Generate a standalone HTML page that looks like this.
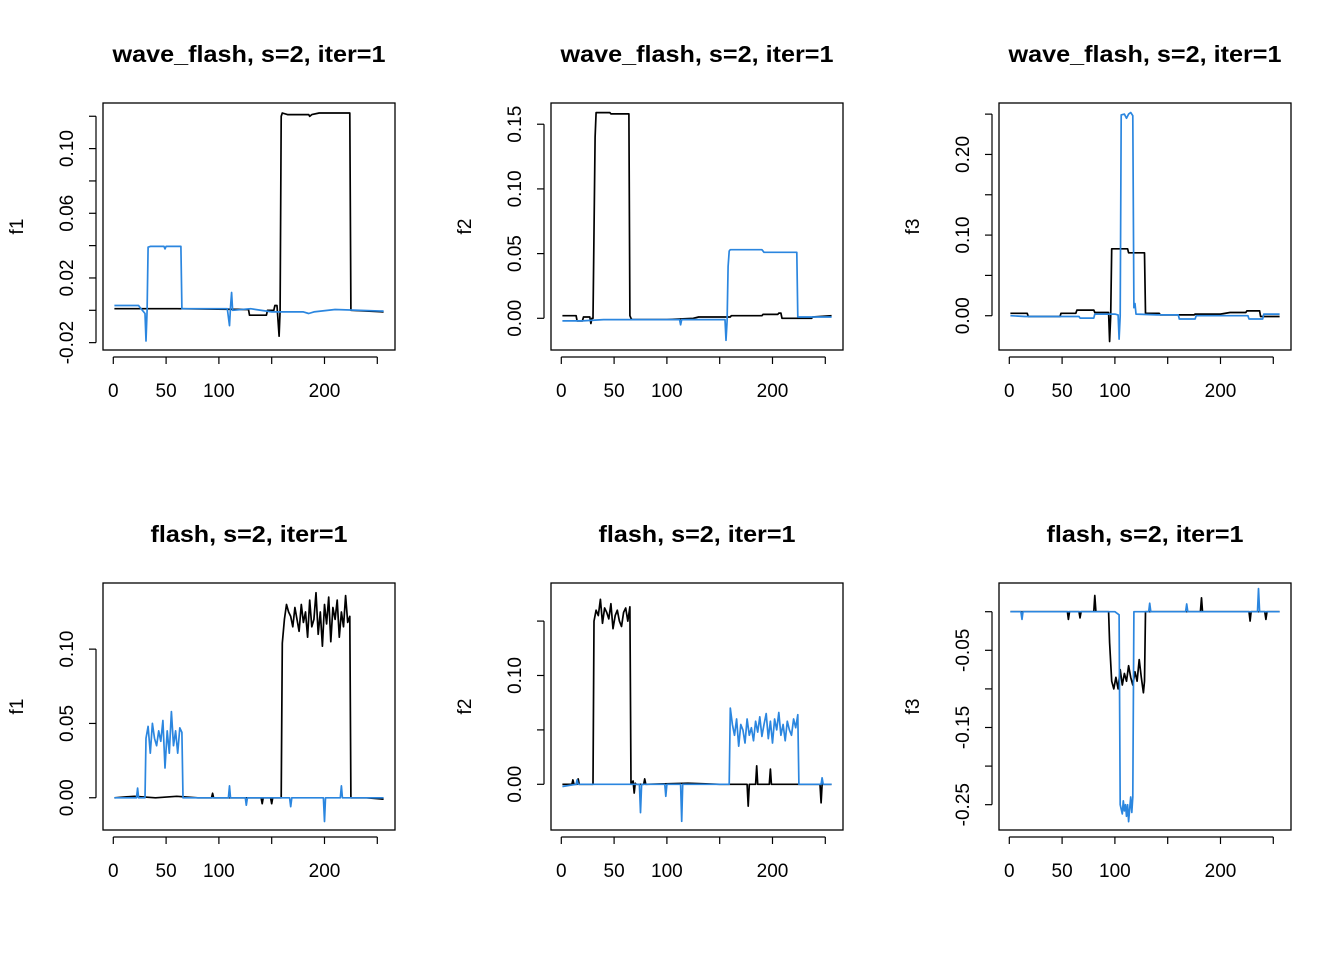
<!DOCTYPE html>
<html><head><meta charset="utf-8">
<style>
html,body{margin:0;padding:0;background:#fff;}
svg{display:block;font-family:"Liberation Sans",Arial,sans-serif;}
</style></head>
<body>
<svg id="chart" width="1344" height="960" viewBox="0 0 1344 960" xmlns="http://www.w3.org/2000/svg"></svg>
<script>
// ---- data (index, value) pairs ----
const p1Black=[[1,0.001],[60,0.001],[128,0.0005],[129,-0.003],[145,-0.003],[146,0],[152,0],[153,0.003],[155,0.003],[157,-0.016],[158,0],[159,0.12],[160,0.122],[165,0.121],[185,0.121],[186,0.120],[188,0.121],[195,0.122],[210,0.122],[224,0.122],[225,0],[256,-0.001]];
const p1Blue=[[1,0.003],[24,0.003],[25,0.002],[30,-0.002],[31,-0.019],[32,0],[33,0.039],[35,0.0395],[48,0.0395],[49,0.038],[50,0.0395],[64,0.0395],[65,0.001],[108,0.001],[110,-0.0095],[111,0.002],[112,0.011],[113,0],[130,0.001],[150,-0.001],[180,-0.001],[185,-0.002],[190,-0.001],[210,0.0005],[256,-0.0005]];
const p2Black=[[1,0.002],[14,0.002],[15,-0.002],[20,-0.002],[21,0.001],[27,0.001],[28,-0.004],[29,0],[30,0],[32,0.14],[33,0.159],[46,0.159],[47,0.158],[64,0.158],[65,0.002],[66,0],[67,-0.001],[100,-0.001],[125,0],[130,0.001],[160,0.001],[161,0.002],[190,0.002],[191,0.003],[205,0.003],[206,0.004],[208,0.004],[209,0],[237,0],[238,0.001],[256,0.002]];
const p2Blue=[[1,-0.002],[20,-0.002],[40,-0.001],[80,-0.001],[112,-0.001],[113,-0.005],[114,-0.001],[155,-0.001],[156,-0.017],[157,-0.002],[158,0.04],[159,0.052],[160,0.053],[190,0.053],[192,0.051],[223,0.051],[224,0.001],[256,0.001]];
const p3Black=[[1,0.003],[17,0.003],[18,-0.001],[48,-0.001],[49,0.003],[63,0.003],[64,0.007],[80,0.007],[81,0.004],[94,0.004],[95,-0.032],[96,0],[97,0.083],[112,0.083],[113,0.078],[128,0.078],[129,0.003],[142,0.003],[143,0.001],[175,0.001],[176,0.002],[200,0.002],[209,0.004],[224,0.004],[225,0.006],[237,0.006],[238,-0.001],[256,-0.001]];
const p3Blue=[[1,0],[15,-0.001],[66,-0.001],[67,-0.003],[80,-0.003],[81,0.002],[100,0.002],[103,0.001],[104,-0.029],[105,0],[106,0.249],[109,0.25],[111,0.245],[113,0.25],[115,0.252],[117,0.248],[118,0.01],[119,0.015],[120,0.002],[140,0.001],[160,0.001],[161,-0.004],[176,-0.004],[177,0],[226,0],[227,-0.004],[240,-0.004],[241,0.002],[256,0.002]];
const p4Black=[[1,0],[20,0.001],[40,0],[60,0.001],[80,0],[93,0],[94,0.003],[95,0],[140,0],[141,-0.004],[142,0],[149,0],[150,-0.004],[151,0],[159,0],[160,0.104],[162,0.12],[164,0.13],[166,0.125],[168,0.122],[170,0.115],[172,0.128],[174,0.12],[176,0.112],[178,0.13],[180,0.118],[182,0.125],[184,0.108],[186,0.133],[188,0.115],[190,0.12],[192,0.138],[194,0.11],[196,0.125],[198,0.102],[200,0.13],[202,0.117],[204,0.135],[206,0.105],[208,0.128],[210,0.12],[212,0.133],[214,0.108],[216,0.125],[218,0.115],[220,0.136],[222,0.118],[224,0.122],[225,0],[240,0],[256,-0.001]];
const p4Blue=[[1,0],[22,0],[23,0.0065],[24,0],[30,0],[31,0.04],[33,0.048],[35,0.03],[37,0.05],[39,0.04],[41,0.035],[43,0.045],[45,0.038],[47,0.052],[49,0.02],[51,0.045],[53,0.03],[55,0.058],[57,0.035],[59,0.045],[61,0.03],[63,0.047],[65,0.044],[66,0],[100,0],[109,0],[110,0.008],[111,0],[125,0],[126,-0.005],[127,0],[167,0],[168,-0.006],[169,0],[199,0],[200,-0.016],[201,0],[215,0],[216,0.008],[217,0],[256,0]];
const p5Black=[[1,0],[10,0],[11,0.004],[12,0],[15,0],[16,0.005],[17,0],[30,0],[31,0.15],[33,0.16],[35,0.155],[37,0.17],[39,0.148],[41,0.162],[43,0.158],[45,0.152],[47,0.166],[49,0.143],[51,0.155],[53,0.16],[55,0.15],[57,0.145],[59,0.158],[61,0.162],[63,0.15],[65,0.163],[66,0],[68,0.003],[69,-0.008],[70,0.001],[71,0],[78,0],[79,0.005],[80,0],[120,0.001],[150,0],[176,0],[177,-0.02],[178,0],[184,0],[185,0.017],[186,0],[197,0],[198,0.014],[199,0],[245,0],[246,-0.017],[247,0],[256,0]];
const p5Blue=[[1,-0.002],[14,0],[15,0.004],[16,0],[74,0],[75,-0.026],[76,0],[98,0],[99,-0.011],[100,0],[113,0],[114,-0.034],[115,0],[159,0],[160,0.07],[162,0.055],[164,0.045],[166,0.06],[168,0.035],[170,0.055],[172,0.05],[174,0.038],[176,0.06],[178,0.045],[180,0.052],[182,0.04],[184,0.058],[186,0.048],[188,0.062],[190,0.044],[192,0.055],[194,0.065],[196,0.042],[198,0.058],[200,0.038],[202,0.06],[204,0.05],[206,0.066],[208,0.045],[210,0.055],[212,0.04],[214,0.058],[216,0.05],[218,0.045],[220,0.06],[222,0.052],[224,0.064],[225,0],[246,0],[247,0.006],[248,0],[256,0]];
const p6Black=[[1,0],[55,0],[56,-0.01],[57,0],[66,0],[67,-0.008],[68,0],[80,0],[81,0.021],[82,0],[94,0],[95,-0.04],[97,-0.09],[99,-0.1],[101,-0.085],[103,-0.1],[105,-0.075],[107,-0.095],[109,-0.08],[111,-0.09],[113,-0.07],[115,-0.085],[117,-0.095],[119,-0.078],[121,-0.09],[123,-0.062],[125,-0.085],[127,-0.105],[128,-0.09],[129,0],[181,0],[182,0.018],[183,0],[227,0],[228,-0.012],[229,0],[242,0],[243,-0.01],[244,0],[256,0]];
const p6Blue=[[1,0],[11,0],[12,-0.01],[13,0],[100,0],[104,-0.004],[105,-0.25],[107,-0.262],[108,-0.245],[109,-0.258],[110,-0.25],[111,-0.265],[112,-0.25],[113,-0.272],[114,-0.255],[115,-0.24],[116,-0.26],[117,-0.24],[118,0],[132,0],[133,0.011],[134,0],[167,0],[168,0.01],[169,0],[235,0],[236,0.03],[237,0],[256,0]];
// ---- axis ticks ----
const xTicks=[0,50,100,150,200,250];
const xLabels=[0,50,100,200];
const p1YTicks=[-0.02,0,0.02,0.04,0.06,0.08,0.10,0.12];
const p1YLabels=["-0.02","0.02","0.06","0.10"];
const p2YTicks=[0,0.05,0.10,0.15];
const p2YLabels=["0.00","0.05","0.10","0.15"];
const p3YTicks=[0,0.05,0.10,0.15,0.20,0.25];
const p3YLabels=["0.00","0.10","0.20"];
const p4YTicks=[0,0.05,0.10];
const p4YLabels=["0.00","0.05","0.10"];
const p5YTicks=[0,0.05,0.10,0.15];
const p5YLabels=["0.00","0.10"];
const p6YTicks=[0,-0.05,-0.10,-0.15,-0.20,-0.25];
const p6YLabels=["-0.05","-0.15","-0.25"];

const NS="http://www.w3.org/2000/svg";
const svg=document.getElementById('chart');
function mk(tag,attrs,parent){const e=document.createElementNS(NS,tag);for(const k in attrs)e.setAttribute(k,attrs[k]);(parent||svg).appendChild(e);return e;}

const panels=[
 {id:'p1',L:103,T:103,yl:[-0.02455,0.1282],title:'wave_flash, s=2, iter=1',tw:273,ylab:'f1',ticks:p1YTicks,labs:p1YLabels,black:p1Black,blue:p1Blue},
 {id:'p2',L:551,T:103,yl:[-0.0245,0.1664],title:'wave_flash, s=2, iter=1',tw:273,ylab:'f2',ticks:p2YTicks,labs:p2YLabels,black:p2Black,blue:p2Blue},
 {id:'p3',L:999,T:103,yl:[-0.0425,0.2638],title:'wave_flash, s=2, iter=1',tw:273,ylab:'f3',ticks:p3YTicks,labs:p3YLabels,black:p3Black,blue:p3Blue},
 {id:'p4',L:103,T:583,yl:[-0.0217,0.1445],title:'flash, s=2, iter=1',tw:197,ylab:'f1',ticks:p4YTicks,labs:p4YLabels,black:p4Black,blue:p4Blue},
 {id:'p5',L:551,T:583,yl:[-0.0420,0.185],title:'flash, s=2, iter=1',tw:197,ylab:'f2',ticks:p5YTicks,labs:p5YLabels,black:p5Black,blue:p5Blue},
 {id:'p6',L:999,T:583,yl:[-0.2828,0.0372],title:'flash, s=2, iter=1',tw:197,ylab:'f3',ticks:p6YTicks,labs:p6YLabels,black:p6Black,blue:p6Blue}
];
const W=292,H=247,XMIN=-9.75,XMAX=266.77;

panels.forEach(p=>{
  const g=mk('g',{});
  
  
  const sx=v=>p.L+(v-XMIN)/(XMAX-XMIN)*W;
  const sy=v=>p.T+H-(v-p.yl[0])/(p.yl[1]-p.yl[0])*H;
  const t=mk('text',{x:p.L+W/2,y:p.T-41,'text-anchor':'middle','font-size':'23','font-weight':'bold',fill:'#000',textLength:p.tw,lengthAdjust:'spacingAndGlyphs'},g);
  t.textContent=p.title;
  
  
  [['black','#000',p.black],['blue','#2b86df',p.blue]].forEach(s=>{
    const pl=mk('polyline',{points:s[2].map(d=>sx(d[0]).toFixed(1)+','+sy(d[1]).toFixed(1)).join(' '),fill:'none',stroke:s[1],'stroke-width':'1.7','stroke-linejoin':'round'},g);
    
    
  });
  const box=mk('rect',{x:p.L,y:p.T,width:W,height:H,fill:'none',stroke:'#000','stroke-width':'1.3'},g);
  
  
  const ax=p.T+H+7;
  const xl=mk('line',{x1:sx(xTicks[0]),x2:sx(xTicks[xTicks.length-1]),y1:ax,y2:ax,stroke:'#000','stroke-width':'1.2'},g);
  
  
  xTicks.forEach(v=>{
    const tk=mk('line',{x1:sx(v),x2:sx(v),y1:ax,y2:ax+7,stroke:'#000','stroke-width':'1.2'},g);
    
    
  });
  xLabels.forEach(v=>{
    const tl=mk('text',{x:sx(v),y:ax+40,'text-anchor':'middle','font-size':'19',fill:'#000'},g);
    tl.textContent=String(v);
    
    
  });
  const ay=p.L-7;
  const yl=mk('line',{x1:ay,x2:ay,y1:sy(Math.min(...p.ticks)),y2:sy(Math.max(...p.ticks)),stroke:'#000','stroke-width':'1.2'},g);
  
  
  p.ticks.forEach(v=>{
    const tk=mk('line',{x1:ay-7,x2:ay,y1:sy(v),y2:sy(v),stroke:'#000','stroke-width':'1.2'},g);
    
    
  });
  p.labs.forEach(l=>{
    const yy=sy(parseFloat(l)), xx=ay-23;
    const tl=mk('text',{x:xx,y:yy,'text-anchor':'middle','font-size':'19',fill:'#000',transform:'rotate(-90 '+xx+' '+yy+')'},g);
    tl.textContent=l;
    
    
  });
  const yx=p.L-80, yy=p.T+H/2;
  const yt=mk('text',{x:yx,y:yy,'text-anchor':'middle','font-size':'19',fill:'#000',transform:'rotate(-90 '+yx+' '+yy+')'},g);
  yt.textContent=p.ylab;
  
  
});
</script>
</body></html>
